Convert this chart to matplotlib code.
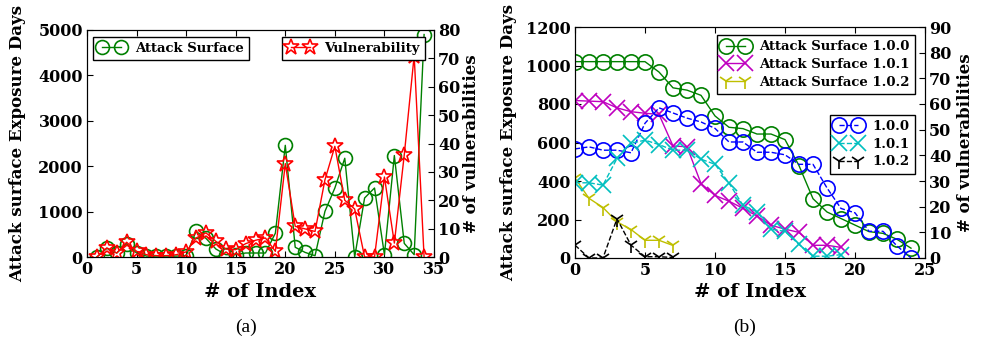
import matplotlib
matplotlib.use("Agg")
import matplotlib.pyplot as plt
from matplotlib.ticker import MultipleLocator

plt.rcParams['font.family'] = ['DejaVu Serif']
plt.rcParams['font.weight'] = 'bold'

# ---- panel (a) data: index 1..34 ----
idx_a = list(range(1, 35))
attack_a = [0, 190, 88, 293, 88, 20, 20, 20, 20, 30, 564, 410, 176, 51, 51, 88, 88, 88,
            525, 2460, 215, 101, 29, 1005, 1520, 2175, 0, 1300, 1520, 51, 2235, 300, 51, 4900]
vuln_a = [0, 3.2, 1.4, 5.2, 2.0, 0.8, 0.5, 0.5, 0.8, 1.8, 6.7, 8.5, 5.5, 2.8, 2.6, 4.7, 5.9, 6.7,
          2.0, 32.9, 10.8, 9.9, 9.0, 27.2, 39, 20, 16.9, 0, 0, 28.2, 4.9, 36, 71, 0]

# ---- panel (b) data ----
as_100 = [1020, 1020, 1020, 1020, 1020, 1020, 966, 884, 872, 845, 738, 679, 672, 644, 644, 615,
          480, 308, 239, 205, 171, 137, 128, 97, 51]
as_101 = [818, 815, 812, 780, 760, 752, 746, 582, 578, 387, 325, 295, 258, 218, 170, 150, 133,
          66, 66, 55]
as_102 = [415, 310, 262, 188, 148, 92, 92, 65]
v_100 = [42.5, 43.3, 42, 42, 41, 52.5, 58.5, 56.5, 54.5, 53, 50.5, 45.2, 45.2, 41.2, 41.2, 40.2,
         36.5, 36.5, 27.3, 19.3, 17.6, 10.4, 10.4, 4.7, 0]
v_101 = [29.3, 29.3, 28.4, 38.8, 44.7, 45.9, 44.2, 42, 42, 38.5, 36.5, 29.2, 20.5, 18, 11.2, 10.4,
         5.3, 0.7, 0.7, 1.3]
v_102 = [5, 0, 0, 15.3, 5, 0.5, 0.5, 0.2]

TICK = 11.5
LAB = 12
XLAB = 14


def style(ax, twin):
    for a in (ax, twin):
        a.tick_params(direction='in', length=4, labelsize=TICK, pad=3)
    ax.tick_params(top=True, right=False)
    twin.tick_params(left=False, right=True)


fig = plt.figure(figsize=(9.81, 3.41), dpi=100)
leg_kw = dict(fancybox=False, edgecolor='black', framealpha=1, numpoints=2,
              handlelength=2, borderaxespad=0, prop={'size': 9.5, 'weight': 'bold'})

# ---------- (a) ----------
ax1 = fig.add_axes([87 / 981, 1 - 257 / 341, 347 / 981, 227 / 341])
tw1 = ax1.twinx()
l1, = ax1.plot(idx_a, attack_a, color='green', lw=1, marker='o', ms=10, mfc='none', mew=1.2)
l2, = tw1.plot(idx_a, vuln_a, color='red', lw=1, marker='*', ms=12, mfc='none', mew=1.2)
ax1.set_xlim(0, 35)
ax1.set_ylim(0, 5000)
tw1.set_ylim(0, 80)
ax1.xaxis.set_major_locator(MultipleLocator(5))
ax1.yaxis.set_major_locator(MultipleLocator(1000))
tw1.yaxis.set_major_locator(MultipleLocator(10))
style(ax1, tw1)
ax1.set_xlabel('# of Index', fontsize=XLAB, fontweight='bold')
ax1.xaxis.set_label_coords(0.5, -0.115)
ax1.set_ylabel('Attack surface Exposure Days', fontsize=LAB, fontweight='bold')
ax1.yaxis.set_label_coords(-0.175, 0.5)
tw1.set_ylabel('# of vulnerabilities', fontsize=LAB, fontweight='bold')
tw1.yaxis.set_label_coords(1.085, 0.5)
lg = tw1.legend([l1], ['Attack Surface'], loc='upper left',
                bbox_to_anchor=(0.017, 0.97), **leg_kw)
tw1.add_artist(lg)
tw1.legend([l2], ['Vulnerability'], loc='upper right',
           bbox_to_anchor=(0.974, 0.97), **leg_kw)

# ---------- (b) ----------
x100 = list(range(len(as_100)))
x101 = list(range(len(as_101)))
x102 = list(range(len(as_102)))
ax2 = fig.add_axes([575 / 981, 1 - 258 / 341, 350 / 981, 231 / 341])
tw2 = ax2.twinx()
a1, = ax2.plot(x100, as_100, color='green', lw=1, marker='o', ms=11, mfc='none', mew=1.2)
a2, = ax2.plot(x101, as_101, color='m', lw=1, marker='x', ms=11, mew=1.2)
a3, = ax2.plot(x102, as_102, color='y', lw=1, marker='1', ms=11, mew=1.2)
b1, = tw2.plot(x100, v_100, color='b', lw=1, ls='--', marker='o', ms=11, mfc='none', mew=1.2)
b2, = tw2.plot(x101, v_101, color='c', lw=1, ls='--', marker='x', ms=11, mew=1.2)
b3, = tw2.plot(x102, v_102, color='k', lw=1, ls='--', marker='1', ms=11, mew=1.2)
ax2.set_xlim(0, 25)
ax2.set_ylim(0, 1200)
tw2.set_ylim(0, 90)
ax2.xaxis.set_major_locator(MultipleLocator(5))
ax2.yaxis.set_major_locator(MultipleLocator(200))
tw2.yaxis.set_major_locator(MultipleLocator(10))
style(ax2, tw2)
ax2.set_xlabel('# of Index', fontsize=XLAB, fontweight='bold')
ax2.xaxis.set_label_coords(0.5, -0.108)
ax2.set_ylabel('Attack surface Exposure Days', fontsize=LAB, fontweight='bold')
ax2.yaxis.set_label_coords(-0.165, 0.5)
tw2.set_ylabel('# of vulnerabilities', fontsize=LAB, fontweight='bold')
tw2.yaxis.set_label_coords(1.09, 0.5)
lg2 = tw2.legend([a1, a2, a3],
                 ['Attack Surface 1.0.0', 'Attack Surface 1.0.1', 'Attack Surface 1.0.2'],
                 loc='upper right', bbox_to_anchor=(0.971, 0.965), labelspacing=0.35, **leg_kw)
tw2.add_artist(lg2)
tw2.legend([b1, b2, b3], ['1.0.0', '1.0.1', '1.0.2'],
           loc='upper right', bbox_to_anchor=(0.971, 0.62), labelspacing=0.35, **leg_kw)

fig.text(246 / 981, 1 - 327 / 341, '(a)', ha='center', va='center',
         family='Liberation Serif', fontweight='normal', fontsize=14)
fig.text(745 / 981, 1 - 327 / 341, '(b)', ha='center', va='center',
         family='Liberation Serif', fontweight='normal', fontsize=14)

fig.savefig('out.png', dpi=100)
